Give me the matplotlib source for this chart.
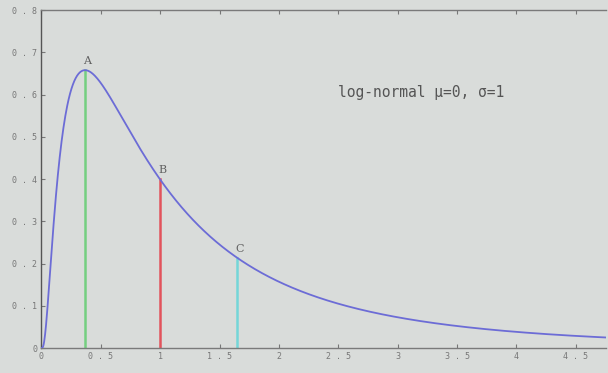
import numpy as np
import matplotlib
matplotlib.use("Agg")
import matplotlib.pyplot as plt

# Distribution parameters (from the chart's caption)
mu = 0.0
sigma = 1.0
# Marker positions: mode (A), median (B), mean (C)
marker_labels = ["A", "B", "C"]
marker_x = [0.368, 1.0, 1.649]
marker_colors = ["#74cf80", "#e2535c", "#74d6d8"]
x_ticks = [0, 0.5, 1, 1.5, 2, 2.5, 3, 3.5, 4, 4.5]
x_tick_labels = ["0", "0 . 5", "1", "1 . 5", "2", "2 . 5", "3", "3 . 5", "4", "4 . 5"]
y_ticks = [0, 0.1, 0.2, 0.3, 0.4, 0.5, 0.6, 0.7, 0.8]
y_tick_labels = ["0", "0 . 1", "0 . 2", "0 . 3", "0 . 4", "0 . 5", "0 . 6", "0 . 7", "0 . 8"]


def pdf(x):
    x = np.asarray(x, dtype=float)
    return np.exp(-(np.log(x) - mu) ** 2 / (2 * sigma ** 2)) / (x * sigma * np.sqrt(2 * np.pi))


bg = "#d9dcda"
fig = plt.figure(figsize=(6.08, 3.73), dpi=100, facecolor=bg)
ax = fig.add_axes([0.068, 0.067, 0.928, 0.906], facecolor=bg)

xs = np.linspace(1e-4, 4.75, 1200)
ax.plot(xs, pdf(xs), color="#6c6cd6", lw=1.3, zorder=3)

for lab, xv, c in zip(marker_labels, marker_x, marker_colors):
    yv = float(pdf(xv))
    ax.plot([xv, xv], [0, yv], color=c, lw=1.8, zorder=2)
    ax.text(xv + 0.02, yv + 0.01, lab, fontsize=8, color="#606060",
            family="DejaVu Serif", ha="center", va="bottom")

ax.text(0.525, 0.755, "log-normal \u03bc=0, \u03c3=1", transform=ax.transAxes,
        fontsize=10.5, family="DejaVu Sans Mono", color="#555555", va="center")

ax.set_xlim(0, 4.75)
ax.set_ylim(0, 0.8)
ax.set_xticks(x_ticks)
ax.set_xticklabels(x_tick_labels)
ax.set_yticks(y_ticks)
ax.set_yticklabels(y_tick_labels)
for lbl in ax.get_xticklabels() + ax.get_yticklabels():
    lbl.set_family("DejaVu Sans Mono")
    lbl.set_fontsize(6)
    lbl.set_color("#777777")
ax.tick_params(direction="in", length=3, color="#777777", top=True, right=False, pad=3)
for side in ["left", "bottom", "top"]:
    ax.spines[side].set_color("#7a7a7a")
    ax.spines[side].set_linewidth(1.0)
ax.spines["right"].set_visible(False)
ax.spines["left"].set_color("#555555")

fig.savefig("out.png", dpi=100, facecolor=bg)
